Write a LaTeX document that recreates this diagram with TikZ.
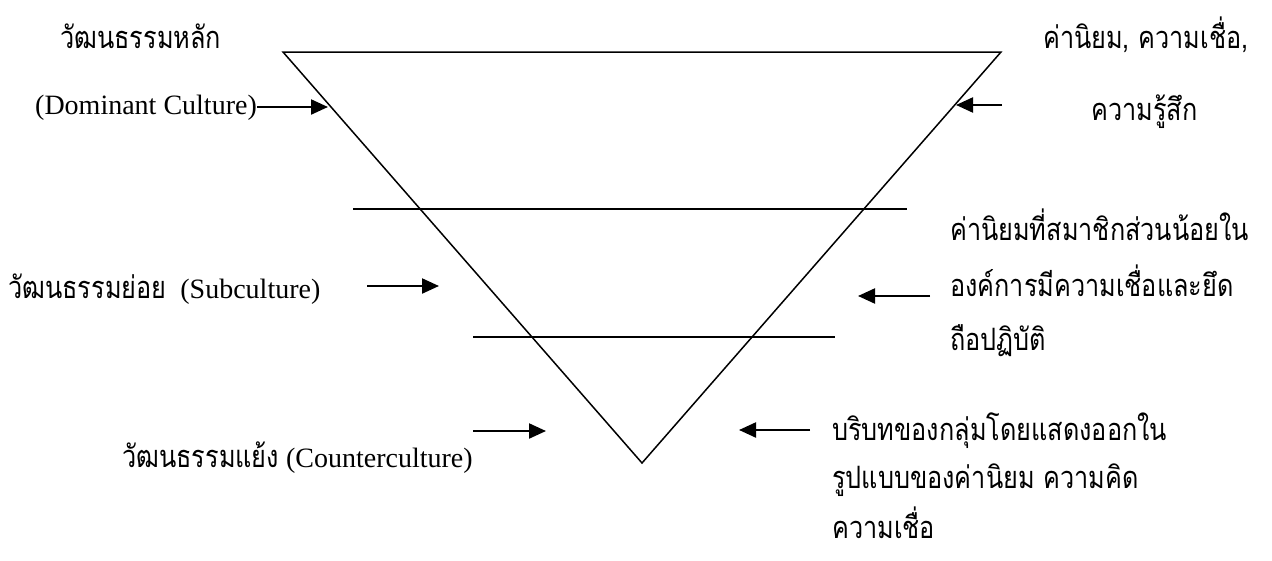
\documentclass[tikz,border=0pt]{standalone}
\usepackage{fontspec}
\setmainfont{Liberation Serif}
\newfontfamily\thaifont[Script=Thai,Scale=1.1,FakeStretch=0.82]{Loma}
\newcommand{\tht}[1]{{\thaifont #1}}
\usetikzlibrary{arrows.meta}
\begin{document}
\begin{tikzpicture}[x=1pt,y=-1pt,
  lbl/.style={anchor=base west, inner sep=0pt, font=\fontsize{28}{34}\selectfont},
  tri/.style={line width=1.5pt, line join=miter},
  arr/.style={line width=2.2pt, -{Triangle[length=17pt,width=15pt]}}]
\useasboundingbox (0,0) rectangle (1272,560);
% triangle and levels
\coordinate (tl) at (283,52);
\coordinate (tr) at (1001,52);
\coordinate (bv) at (642,463);
\draw[tri] (tl) -- (tr) -- (bv) -- cycle;
\coordinate (l1a) at (353,209);
\coordinate (l1b) at (907,209);
\coordinate (l2a) at (473,337);
\coordinate (l2b) at (835,337);
\draw[tri] (l1a) -- (l1b);
\draw[tri] (l2a) -- (l2b);
% left labels
\node[lbl] (dom1) at (60,48) {\tht{วัฒนธรรมหลัก}};
\node[lbl] (dom2) at (35,114) {(Dominant Culture)};
\node[lbl] (sub) at (8,298) {\tht{วัฒนธรรมย่อย}\ \ (Subculture)};
\node[lbl] (cnt) at (122,467) {\tht{วัฒนธรรมแย้ง} (Counterculture)};
% right labels
\node[lbl] (r1a) at (1043,48) {\tht{ค่านิยม, ความเชื่อ,}};
\node[lbl] (r1b) at (1091,120) {\tht{ความรู้สึก}};
\node[lbl] (r2a) at (950,240) {\tht{ค่านิยมที่สมาชิกส่วนน้อยใน}};
\node[lbl] (r2b) at (950,296) {\tht{องค์การมีความเชื่อและยึด}};
\node[lbl] (r2c) at (950,350) {\tht{ถือปฏิบัติ}};
\node[lbl] (r3a) at (832,440) {\tht{บริบทของกลุ่มโดยแสดงออกใน}};
\node[lbl] (r3b) at (832,488) {\tht{รูปแบบของค่านิยม ความคิด}};
\node[lbl] (r3c) at (832,538) {\tht{ความเชื่อ}};
% arrows
\coordinate (a1e) at (328,107);
\draw[arr] (dom2.east |- a1e) -- (a1e);
\coordinate (a2s) at (1002,105);
\coordinate (a2e) at (956,105);
\draw[arr] (a2s) -- (a2e);
\coordinate (a3s) at (367,286);
\coordinate (a3e) at (439,286);
\draw[arr] (a3s) -- (a3e);
\coordinate (a4s) at (930,296);
\coordinate (a4e) at (858,296);
\draw[arr] (a4s) -- (a4e);
\coordinate (a5s) at (473,431);
\coordinate (a5e) at (546,431);
\draw[arr] (a5s) -- (a5e);
\coordinate (a6s) at (810,430);
\coordinate (a6e) at (739,430);
\draw[arr] (a6s) -- (a6e);
\end{tikzpicture}
\end{document}
